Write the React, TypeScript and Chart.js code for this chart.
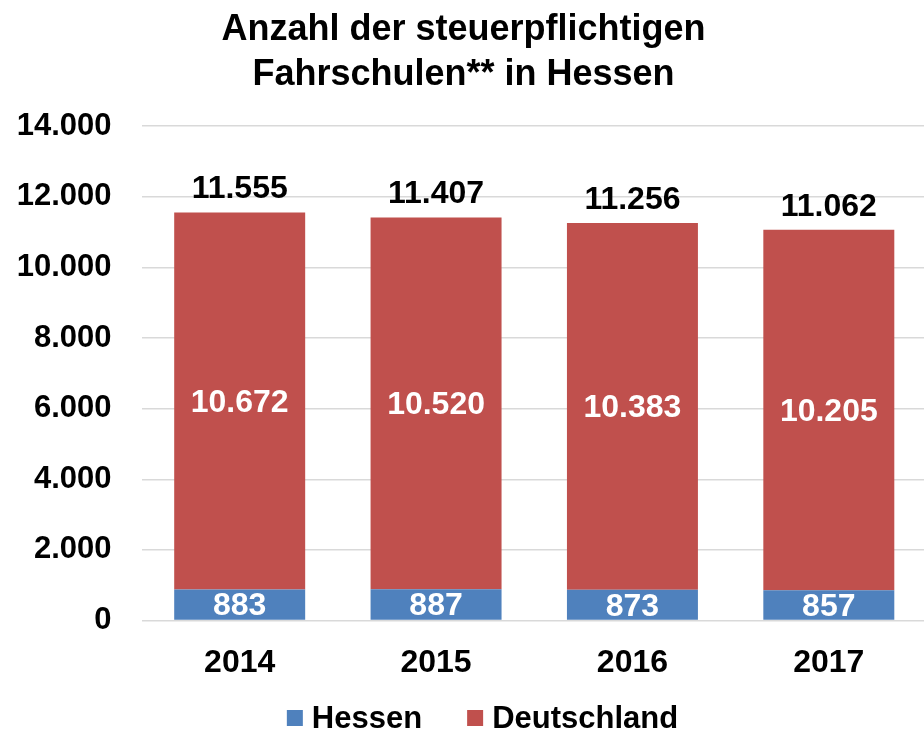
import React, { useEffect, useRef } from "react";
import { Chart, registerables } from "chart.js";

Chart.register(...registerables);

const categories = ["2014", "2015", "2016", "2017"];
const hessen = [883, 887, 873, 857];
const deutschland = [10672, 10520, 10383, 10205];
const totals = [11555, 11407, 11256, 11062];
const seriesNames = ["Hessen", "Deutschland"];
const seriesColors = ["#4f81bd", "#c0504d"];
const yMin = 0;
const yMax = 14000;
const yStep = 2000;
const titleLines = ["Anzahl der steuerpflichtigen", "Fahrschulen** in Hessen"];

const FONT = "'Liberation Sans', Arial, Helvetica, sans-serif";

const fmt = (v: number) =>
  String(Math.round(v)).replace(/\B(?=(\d{3})+(?!\d))/g, ".");

const valueLabels = {
  id: "valueLabels",
  afterDatasetsDraw(chart: any) {
    const ctx = chart.ctx;
    ctx.save();
    ctx.font = `bold 32px ${FONT}`;
    ctx.textAlign = "center";
    ctx.textBaseline = "middle";
    chart.data.datasets.forEach((ds: any, di: number) => {
      const meta = chart.getDatasetMeta(di);
      meta.data.forEach((bar: any, i: number) => {
        const p = bar.getProps(["x", "y", "base"], true);
        ctx.fillStyle = "#ffffff";
        ctx.fillText(fmt(ds.data[i]), p.x, (p.y + p.base) / 2 + 2);
      });
    });
    const lastMeta = chart.getDatasetMeta(chart.data.datasets.length - 1);
    const yScale = chart.scales.y;
    ctx.fillStyle = "#000000";
    totals.forEach((t, i) => {
      const x = lastMeta.data[i].x;
      ctx.fillText(fmt(t), x, yScale.getPixelForValue(t) - 23);
    });
    ctx.restore();
  },
};

const customLegend = {
  id: "customLegend",
  afterDraw(chart: any) {
    const ctx = chart.ctx;
    ctx.save();
    ctx.font = `bold 31px ${FONT}`;
    ctx.textBaseline = "middle";
    ctx.textAlign = "left";
    const box = 16;
    const gapText = 9;
    const gapItem = 45;
    const items = chart.data.datasets.map((ds: any) => ({
      text: ds.label as string,
      color: ds.backgroundColor as string,
    }));
    const widths = items.map(
      (it: any) => box + gapText + ctx.measureText(it.text).width
    );
    const total =
      widths.reduce((a: number, b: number) => a + b, 0) +
      gapItem * (items.length - 1);
    let x = chart.width / 2 + 19 - total / 2;
    const y = chart.height - 13;
    items.forEach((it: any, i: number) => {
      ctx.fillStyle = it.color;
      ctx.fillRect(x, y - box / 2, box, box);
      ctx.fillStyle = "#000000";
      ctx.fillText(it.text, x + box + gapText, y + 1);
      x += widths[i] + gapItem;
    });
    ctx.restore();
  },
};

export default function App() {
  const canvasRef = useRef<HTMLCanvasElement | null>(null);

  useEffect(() => {
    if (!canvasRef.current) return;
    const chart = new Chart(canvasRef.current, {
      type: "bar",
      data: {
        labels: categories,
        datasets: [
          {
            label: seriesNames[0],
            data: hessen,
            backgroundColor: seriesColors[0],
            borderWidth: 0,
          },
          {
            label: seriesNames[1],
            data: deutschland,
            backgroundColor: seriesColors[1],
            borderWidth: 0,
          },
        ],
      },
      options: {
        animation: false,
        responsive: true,
        maintainAspectRatio: false,
        datasets: {
          bar: {
            categoryPercentage: 1,
            barPercentage: 0.667,
          },
        },
        layout: {
          padding: { left: 0, right: 0, top: 0, bottom: 34 },
        },
        plugins: {
          legend: { display: false },
          tooltip: { enabled: false },
          title: {
            display: true,
            text: titleLines,
            color: "#000000",
            font: { family: FONT, size: 36, weight: "bold", lineHeight: 1.25 },
            padding: { top: 8, bottom: 28 },
          },
        },
        scales: {
          x: {
            stacked: true,
            grid: { display: false },
            border: { display: false },
            ticks: {
              color: "#000000",
              font: { family: FONT, size: 32, weight: "bold" },
              padding: 15,
            },
          },
          y: {
            stacked: true,
            min: yMin,
            max: yMax,
            border: { display: false },
            grid: {
              color: "#d9d9d9",
              lineWidth: 1.5,
              drawTicks: false,
            },
            ticks: {
              stepSize: yStep,
              color: "#000000",
              font: { family: FONT, size: 31, weight: "bold" },
              padding: 30,
              callback: (v: any) => fmt(Number(v)),
            },
            afterFit: (s: any) => {
              s.width = 141.5;
            },
          },
        },
      },
      plugins: [valueLabels, customLegend],
    });
    return () => chart.destroy();
  }, []);

  return (
    <div
      style={{
        position: "absolute",
        left: 0,
        top: 0,
        width: 924,
        height: 731,
        overflow: "hidden",
        background: "#ffffff",
      }}
    >
      <div style={{ position: "relative", width: 927, height: 731 }}>
        <canvas ref={canvasRef} />
      </div>
    </div>
  );
}
